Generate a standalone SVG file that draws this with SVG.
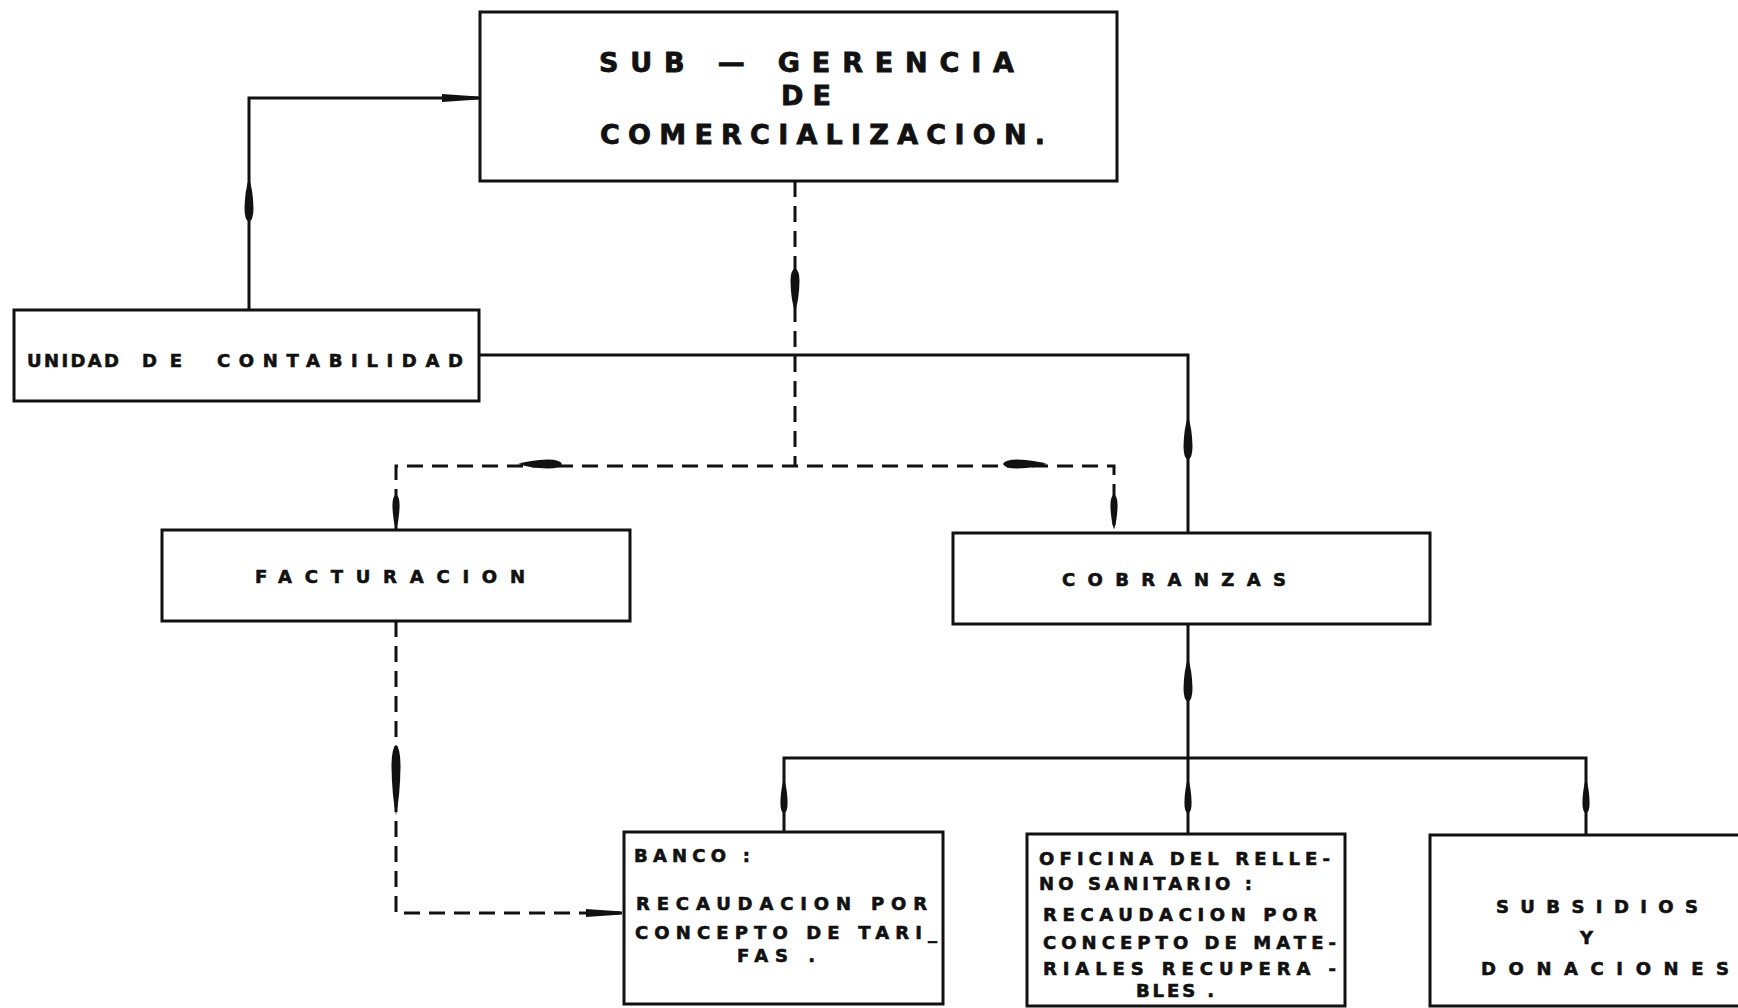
<svg xmlns="http://www.w3.org/2000/svg" xmlns:xlink="http://www.w3.org/1999/xlink" width="1738" height="1008" viewBox="0 0 1738 1008">
<style>
.box{fill:#fff;stroke:#111;stroke-width:3}
.solid{fill:none;stroke:#111;stroke-width:3}
.dash{fill:none;stroke:#111;stroke-width:3;stroke-dasharray:16 9}
.t{font-family:"DejaVu Sans","Liberation Sans",sans-serif;font-weight:bold;fill:#111;stroke:#111;stroke-width:0.6;font-size:18px}
.tt{font-family:"DejaVu Sans","Liberation Sans",sans-serif;font-weight:bold;fill:#111;stroke:#111;stroke-width:0.8;font-size:27px}
.ah{fill:#111}
</style>
<defs>
<path id="tear" d="M0,-22 Q4,-10 4.5,8 Q4.5,20 0,22 Q-4.5,20 -4.5,8 Q-4,-10 0,-22 Z"/>
<path id="tri" d="M-26,-4 L10,-1.5 L10,1.5 L-26,4 Z"/>
</defs>
<rect width="1738" height="1008" fill="#fff"/>

<g id="connectors">
  <path class="solid" d="M249,310 V98 H480"/>
  <use href="#tear" class="ah" transform="translate(249,200)"/>
  <use href="#tri" class="ah" transform="translate(468,98)"/>
  <path class="solid" d="M479,355 H1188 V533"/>
  <use href="#tear" class="ah" transform="translate(1188,438)"/>
  <path class="dash" d="M795,181 V466"/>
  <use href="#tear" class="ah" transform="translate(795,290) rotate(180)"/>
  <path class="dash" d="M396,530 V466 H1114 V533"/>
  <use href="#tear" class="ah" transform="translate(540,464) rotate(-90)"/>
  <use href="#tear" class="ah" transform="translate(1025,464) rotate(90)"/>
  <use href="#tear" class="ah" transform="translate(396,512) rotate(180) scale(0.8)"/>
  <use href="#tear" class="ah" transform="translate(1114,512) rotate(180) scale(0.8)"/>
  <path class="dash" d="M396,621 V913 H624"/>
  <use href="#tear" class="ah" transform="translate(396,780) rotate(180) scale(1,1.6)"/>
  <use href="#tri" class="ah" transform="translate(612,913)"/>
  <path class="solid" d="M1188,624 V758"/>
  <use href="#tear" class="ah" transform="translate(1188,680)"/>
  <path class="solid" d="M784,832 V758 H1586 V835"/>
  <path class="solid" d="M1188,758 V834"/>
  <use href="#tear" class="ah" transform="translate(784,796) scale(0.8)"/>
  <use href="#tear" class="ah" transform="translate(1188,796) scale(0.8)"/>
  <use href="#tear" class="ah" transform="translate(1586,796) scale(0.8)"/>
</g>

<g id="gerencia">
  <rect class="box" x="480" y="12" width="637" height="169"/>
  <text class="tt" x="599" y="72" textLength="415" lengthAdjust="spacing">SUB — GERENCIA</text>
  <text class="tt" x="781" y="105" textLength="50" lengthAdjust="spacing">DE</text>
  <text class="tt" x="600" y="144" textLength="445" lengthAdjust="spacing">COMERCIALIZACION.</text>
</g>

<g id="unidad">
  <rect class="box" x="14" y="310" width="465" height="91"/>
  <text class="t" x="27" y="367" textLength="92" lengthAdjust="spacing">UNIDAD</text>
  <text class="t" x="142" y="367" textLength="40" lengthAdjust="spacing">DE</text>
  <text class="t" x="217" y="367" textLength="246" lengthAdjust="spacing">CONTABILIDAD</text>
</g>

<g id="facturacion">
  <rect class="box" x="162" y="530" width="468" height="91"/>
  <text class="t" x="255" y="583" textLength="270" lengthAdjust="spacing">FACTURACION</text>
</g>

<g id="cobranzas">
  <rect class="box" x="953" y="533" width="477" height="91"/>
  <text class="t" x="1062" y="586" textLength="224" lengthAdjust="spacing">COBRANZAS</text>
</g>

<g id="banco">
  <rect class="box" x="624" y="832" width="319" height="172"/>
  <text class="t" x="634" y="862" textLength="116" lengthAdjust="spacing">BANCO :</text>
  <text class="t" x="636" y="910" textLength="291" lengthAdjust="spacing">RECAUDACION POR</text>
  <text class="t" x="635" y="939" textLength="302" lengthAdjust="spacing">CONCEPTO DE TARI_</text>
  <text class="t" x="737" y="962" textLength="78" lengthAdjust="spacing">FAS .</text>
</g>

<g id="oficina">
  <rect class="box" x="1027" y="834" width="318" height="172"/>
  <text class="t" x="1039" y="865" textLength="291" lengthAdjust="spacing">OFICINA DEL RELLE-</text>
  <text class="t" x="1039" y="890" textLength="213" lengthAdjust="spacing">NO SANITARIO :</text>
  <text class="t" x="1043" y="921" textLength="274" lengthAdjust="spacing">RECAUDACION POR</text>
  <text class="t" x="1043" y="949" textLength="293" lengthAdjust="spacing">CONCEPTO DE MATE-</text>
  <text class="t" x="1043" y="975" textLength="293" lengthAdjust="spacing">RIALES RECUPERA -</text>
  <text class="t" x="1136" y="997" textLength="78" lengthAdjust="spacing">BLES .</text>
</g>

<g id="subsidios">
  <rect class="box" x="1430" y="835" width="320" height="171"/>
  <text class="t" x="1496" y="913" textLength="202" lengthAdjust="spacing">SUBSIDIOS</text>
  <text class="t" x="1580" y="944">Y</text>
  <text class="t" x="1481" y="975" textLength="248" lengthAdjust="spacing">DONACIONES</text>
</g>
</svg>
